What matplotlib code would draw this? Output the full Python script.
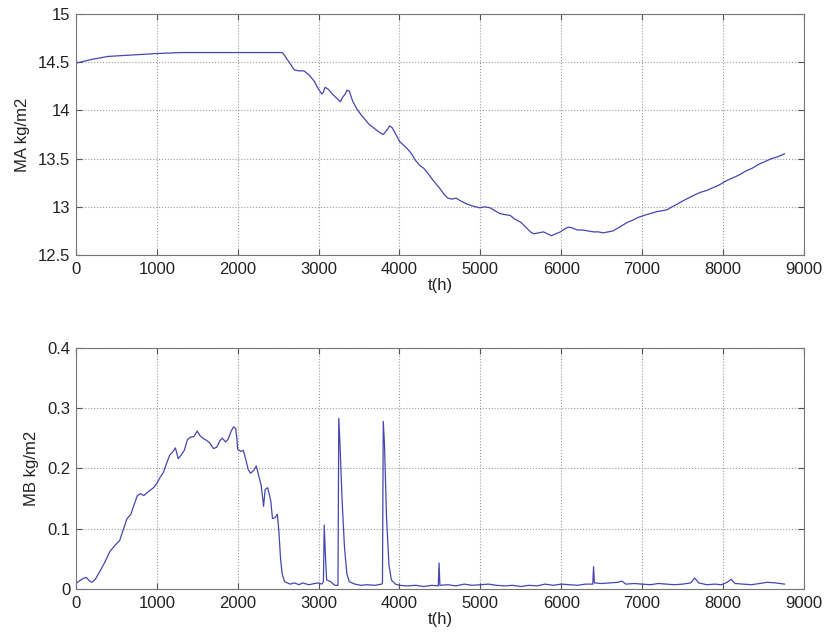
import matplotlib
matplotlib.use("Agg")
import matplotlib.pyplot as plt

# MA (top panel)
t_ma = [0, 100, 200, 400, 600, 800, 1000, 1300, 1600, 2000, 2300, 2550, 2580, 2620, 2660,
        2700, 2760, 2820, 2880, 2940, 3000, 3040, 3060, 3080, 3120, 3170, 3220, 3270, 3300,
        3330, 3350, 3380, 3420, 3470, 3520, 3570, 3620, 3680, 3740, 3800, 3840, 3880, 3910,
        3950, 4000, 4050, 4100, 4150, 4200, 4250, 4300, 4350, 4420, 4500, 4550, 4600, 4650,
        4700, 4760, 4830, 4900, 4990, 5050, 5120, 5180, 5240, 5300, 5370, 5430, 5500, 5560,
        5620, 5660, 5720, 5780, 5830, 5880, 5930, 5990, 6040, 6090, 6140, 6200, 6260, 6330,
        6400, 6460, 6520, 6580, 6640, 6700, 6760, 6820, 6880, 6950, 7020, 7100, 7180, 7250,
        7310, 7370, 7440, 7500, 7570, 7640, 7720, 7800, 7880, 7960, 8040, 8120, 8200, 8280,
        8360, 8440, 8520, 8600, 8680, 8760]
ma = [14.49, 14.51, 14.53, 14.56, 14.57, 14.58, 14.59, 14.60, 14.60, 14.60, 14.60, 14.60,
      14.57, 14.52, 14.47, 14.42, 14.41, 14.41, 14.37, 14.31, 14.22, 14.17, 14.19, 14.24,
      14.22, 14.17, 14.13, 14.09, 14.14, 14.17, 14.21, 14.20, 14.10, 14.02, 13.96, 13.91,
      13.86, 13.82, 13.78, 13.75, 13.79, 13.84, 13.82, 13.76, 13.68, 13.64, 13.60, 13.55,
      13.48, 13.43, 13.40, 13.35, 13.27, 13.19, 13.13, 13.09, 13.08, 13.09, 13.06, 13.03,
      13.01, 12.99, 13.00, 12.99, 12.96, 12.93, 12.92, 12.91, 12.87, 12.84, 12.79, 12.74,
      12.72, 12.73, 12.74, 12.72, 12.70, 12.72, 12.74, 12.77, 12.79, 12.78, 12.76, 12.76,
      12.75, 12.74, 12.74, 12.73, 12.74, 12.75, 12.78, 12.81, 12.84, 12.86, 12.89, 12.91,
      12.93, 12.95, 12.96, 12.97, 13.00, 13.03, 13.06, 13.09, 13.12, 13.15, 13.17, 13.20,
      13.23, 13.27, 13.30, 13.33, 13.37, 13.40, 13.44, 13.47, 13.50, 13.52, 13.55]

# MB (bottom panel)
t_mb = [0, 50, 100, 130, 170, 200, 240, 300, 360, 420, 480, 540, 590, 630, 680, 720, 760,
        800, 840, 900, 960, 1000, 1040, 1080, 1120, 1160, 1200, 1230, 1265, 1300, 1340, 1380,
        1420, 1460, 1500, 1530, 1570, 1610, 1650, 1700, 1740, 1780, 1810, 1850, 1880, 1920,
        1950, 1975, 1990, 2000, 2040, 2070, 2100, 2130, 2160, 2200, 2230, 2260, 2290, 2310,
        2320, 2340, 2370, 2390, 2410, 2430, 2460, 2490, 2510, 2530, 2550, 2580, 2650, 2700,
        2760, 2800, 2880, 2950, 3000, 3040, 3060, 3070, 3085, 3100, 3150, 3200, 3240, 3250,
        3265, 3290, 3320, 3350, 3380, 3450, 3520, 3600, 3700, 3780, 3790, 3800, 3815, 3840,
        3870, 3900, 3950, 4000, 4100, 4200, 4300, 4400, 4480, 4490, 4500, 4600, 4700, 4800,
        4900, 5000, 5100, 5200, 5300, 5400, 5500, 5600, 5700, 5800, 5900, 6000, 6100, 6200,
        6300, 6390, 6400, 6410, 6500, 6600, 6700, 6750, 6800, 6900, 7000, 7100, 7200, 7300,
        7400, 7500, 7600, 7650, 7700, 7800, 7900, 7980, 8050, 8100, 8150, 8250, 8350, 8450,
        8550, 8650, 8760]
mb = [0.009, 0.014, 0.018, 0.019, 0.013, 0.011, 0.016, 0.030, 0.045, 0.062, 0.072, 0.080,
      0.100, 0.116, 0.124, 0.140, 0.155, 0.158, 0.155, 0.162, 0.168, 0.175, 0.185, 0.193,
      0.208, 0.222, 0.228, 0.234, 0.216, 0.222, 0.230, 0.248, 0.252, 0.253, 0.262, 0.255,
      0.250, 0.247, 0.243, 0.233, 0.235, 0.246, 0.250, 0.244, 0.248, 0.262, 0.269, 0.266,
      0.250, 0.232, 0.228, 0.230, 0.215, 0.198, 0.192, 0.197, 0.204, 0.188, 0.172, 0.150,
      0.137, 0.165, 0.168, 0.158, 0.145, 0.117, 0.118, 0.124, 0.095, 0.050, 0.025, 0.012,
      0.008, 0.010, 0.007, 0.010, 0.007, 0.009, 0.010, 0.008, 0.012, 0.106, 0.055, 0.015,
      0.012, 0.006, 0.006, 0.283, 0.240, 0.150, 0.070, 0.025, 0.012, 0.008, 0.006, 0.007,
      0.006, 0.008, 0.010, 0.278, 0.240, 0.120, 0.040, 0.015, 0.008, 0.006, 0.005, 0.006,
      0.004, 0.006, 0.005, 0.043, 0.006, 0.007, 0.005, 0.008, 0.006, 0.007, 0.008, 0.006,
      0.005, 0.006, 0.004, 0.006, 0.005, 0.008, 0.006, 0.008, 0.007, 0.006, 0.008, 0.008,
      0.037, 0.010, 0.009, 0.010, 0.011, 0.013, 0.008, 0.009, 0.008, 0.007, 0.009, 0.008,
      0.007, 0.008, 0.010, 0.018, 0.010, 0.007, 0.008, 0.007, 0.011, 0.016, 0.009, 0.008,
      0.007, 0.009, 0.011, 0.010, 0.008]

plt.rcParams['font.family'] = ['Liberation Sans', 'DejaVu Sans']
line_color = '#4646b0'

fig = plt.figure(figsize=(8.25, 6.36), dpi=100)
ax1 = fig.add_axes([0.092, 0.599, 0.8824, 0.379])
ax2 = fig.add_axes([0.092, 0.074, 0.8824, 0.379])


def style_axes(ax):
    ax.set_xlim(0, 9000)
    ax.set_xticks(range(0, 9001, 1000))
    ax.grid(True, linestyle=':', color='#9a9a9a', linewidth=0.8)
    ax.tick_params(direction='in', top=True, right=True, length=4,
                   labelsize=12, color='#555555', labelcolor='#222222')
    ax.tick_params(axis='x', pad=5)
    ax.tick_params(axis='y', pad=4)
    for s in ax.spines.values():
        s.set_color('#777777')
    ax.set_xlabel('t(h)', fontsize=12, labelpad=1, color='#222222')


ax1.plot(t_ma, ma, color=line_color, linewidth=0.9)
ax1.set_ylim(12.5, 15)
ax1.set_yticks([12.5, 13, 13.5, 14, 14.5, 15])
ax1.set_yticklabels(['12.5', '13', '13.5', '14', '14.5', '15'])
ax1.set_ylabel('MA kg/m2', fontsize=12, color='#222222', labelpad=6)
style_axes(ax1)

ax2.plot(t_mb, mb, color=line_color, linewidth=0.9)
ax2.set_ylim(0, 0.4)
ax2.set_yticks([0, 0.1, 0.2, 0.3, 0.4])
ax2.set_yticklabels(['0', '0.1', '0.2', '0.3', '0.4'])
ax2.set_ylabel('MB kg/m2', fontsize=12, color='#222222', labelpad=6)
style_axes(ax2)

fig.savefig('out.png', dpi=100)
